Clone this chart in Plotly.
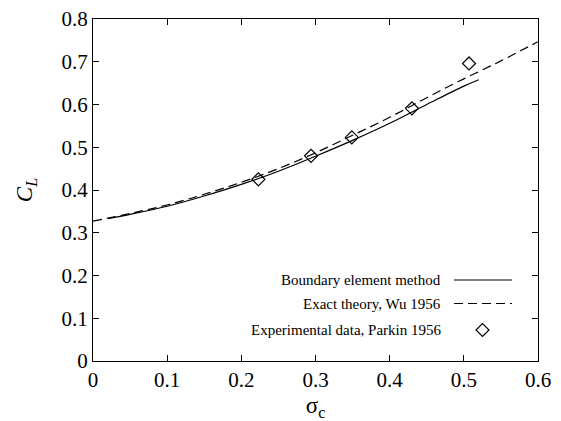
import plotly.graph_objects as go

# Boundary element method solution
bem_sigma = [0.02, 0.05, 0.10, 0.15, 0.20, 0.25, 0.30, 0.35, 0.40, 0.45, 0.50, 0.52]
bem_cl = [0.333, 0.343, 0.362, 0.386, 0.413, 0.444, 0.479, 0.516, 0.556, 0.600, 0.643, 0.658]

# Exact theory, Wu 1956
wu_sigma = [0.00, 0.05, 0.10, 0.15, 0.20, 0.25, 0.30, 0.35, 0.40, 0.45, 0.50, 0.55, 0.60]
wu_cl = [0.327, 0.345, 0.365, 0.390, 0.418, 0.450, 0.487, 0.528, 0.570, 0.616, 0.660, 0.702, 0.747]

# Experimental data, Parkin 1956
exp_sigma = [0.223, 0.294, 0.349, 0.430, 0.507]
exp_cl = [0.425, 0.480, 0.523, 0.591, 0.696]

legend_labels = ["Boundary element method", "Exact theory, Wu 1956",
                 "Experimental data, Parkin 1956"]

FONT = "Liberation Serif"
W, H = 561, 421
ML, MR, MT, MB = 93, 23, 19, 60
PW, PH = W - ML - MR, H - MT - MB

fig = go.Figure()
fig.add_trace(go.Scatter(x=bem_sigma, y=bem_cl, mode="lines", line_shape="spline",
                         line=dict(color="black", width=1.2), showlegend=False))
fig.add_trace(go.Scatter(x=wu_sigma, y=wu_cl, mode="lines", line_shape="spline",
                         line=dict(color="black", width=1.2, dash="9px,5px"), showlegend=False))
fig.add_trace(go.Scatter(x=exp_sigma, y=exp_cl, mode="markers",
                         marker=dict(symbol="diamond-open", size=10, color="black",
                                     line=dict(color="black", width=1.2)),
                         showlegend=False))

def px_x(p):
    return (p - ML) / PW

def px_y(p):
    return (H - MB - p) / PH

# hand-built key: text on the left, sample on the right
rows = [280, 303.5, 330]
text_right = px_x(443)
x0, x1 = px_x(454), px_x(512)
shapes = []
annotations = []
for lab, ry in zip(legend_labels, rows):
    annotations.append(dict(x=text_right, y=px_y(ry), xref="paper", yref="paper",
                            text=lab, showarrow=False, xanchor="right", yanchor="middle",
                            font=dict(family=FONT, size=15, color="black")))
shapes.append(dict(type="line", xref="paper", yref="paper", x0=x0, x1=x1,
                   y0=px_y(rows[0]), y1=px_y(rows[0]),
                   line=dict(color="black", width=1.2)))
shapes.append(dict(type="line", xref="paper", yref="paper", x0=x0, x1=x1,
                   y0=px_y(rows[1]), y1=px_y(rows[1]),
                   line=dict(color="black", width=1.2, dash="9px,5px")))
cx, cy = px_x(482.5), px_y(rows[2])
dx, dy = 6.5 / PW, 6.5 / PH
shapes.append(dict(type="path", xref="paper", yref="paper",
                   path=f"M {cx - dx} {cy} L {cx} {cy + dy} L {cx + dx} {cy} L {cx} {cy - dy} Z",
                   line=dict(color="black", width=1.2)))

axis_common = dict(showline=True, linecolor="black", linewidth=1.3, mirror="ticks",
                   ticks="inside", ticklen=6, tickcolor="black", tickwidth=1,
                   showgrid=False, zeroline=False, automargin=False,
                   tickfont=dict(family=FONT, size=21, color="black"))

fig.update_layout(
    width=W, height=H,
    margin=dict(l=ML, r=MR, t=MT, b=MB),
    paper_bgcolor="white", plot_bgcolor="white",
    font=dict(family=FONT, color="black"),
    xaxis=dict(range=[0, 0.6], tickvals=[0, 0.1, 0.2, 0.3, 0.4, 0.5, 0.6],
               ticktext=["0", "0.1", "0.2", "0.3", "0.4", "0.5", "0.6"],
               title=dict(text="σ<sub>c</sub>", font=dict(family=FONT, size=23, color="black"),
                          standoff=14),
               **axis_common),
    yaxis=dict(range=[0, 0.8], tickvals=[0, 0.1, 0.2, 0.3, 0.4, 0.5, 0.6, 0.7, 0.8],
               ticktext=["0", "0.1", "0.2", "0.3", "0.4", "0.5", "0.6", "0.7", "0.8"],
               title=dict(text="<i>C<sub>L</sub></i>", font=dict(family=FONT, size=23, color="black"),
                          standoff=22),
               **axis_common),
    shapes=shapes, annotations=annotations,
)

fig.write_html("out.html")
